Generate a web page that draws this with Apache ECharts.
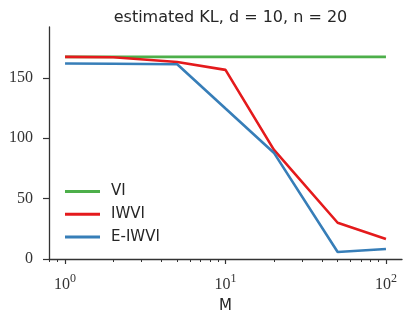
<!DOCTYPE html>
<html>
<head>
<meta charset="utf-8">
<script src="https://cdn.jsdelivr.net/npm/echarts@6/dist/echarts.min.js"></script>
<style>html,body{margin:0;padding:0;background:#fff;}#c{width:415px;height:319px;}</style>
</head>
<body>
<div id="c"></div>
<script>
var titleText = "estimated KL, d = 10, n = 20";
var M = [1, 2, 5, 10, 20, 50, 100];
var vi = [167.3, 167.3, 167.3, 167.3, 167.3, 167.3, 167.3];
var iwvi = [167.3, 167.0, 163.0, 156.5, 90.5, 30.0, 16.6];
var eiwvi = [161.8, 161.6, 161.2, 124.5, 88.0, 5.8, 8.3];
var seriesNames = ["VI", "IWVI", "E-IWVI"];
var colors = ["#4daf4a", "#e41a1c", "#377eb8"];
var yTicks = [0, 50, 100, 150];
var xMajor = [1, 10, 100];
var xMinor = [0.8, 0.9, 2, 3, 4, 5, 6, 7, 8, 9, 20, 30, 40, 50, 60, 70, 80, 90];
var xLabelExp = {1: "0", 10: "1", 100: "2"};

function pairs(xs, ys) { return xs.map(function (x, i) { return [x, ys[i]]; }); }

var chart = echarts.init(document.getElementById('c'), null, {renderer: 'canvas'});
var axisColor = '#333333';
var serif = '"Liberation Serif", serif';
var sans = '"DejaVu Sans", sans-serif';
var xmin = Math.pow(10, -0.1), xmax = Math.pow(10, 2.1);

var option = {
  backgroundColor: '#ffffff',
  animation: false,
  title: {
    text: titleText, left: 225.5, textAlign: 'center', top: 5,
    textStyle: {fontFamily: sans, fontSize: 16, fontWeight: 'normal', color: '#262626'}
  },
  grid: {left: 49, right: 13, top: 27, bottom: 60, containLabel: false},
  legend: {
    orient: 'vertical', left: 60, top: 179,
    itemWidth: 35, itemHeight: 3, itemGap: 7.7, icon: 'rect',
    textStyle: {fontFamily: sans, fontSize: 15, color: '#262626', lineHeight: 15, padding: [0, 0, 0, 6]},
    data: seriesNames
  },
  xAxis: [{
    type: 'log', logBase: 10, min: xmin, max: xmax,
    name: 'M', nameLocation: 'middle', nameGap: 40,
    nameTextStyle: {fontFamily: sans, fontSize: 15, color: '#262626'},
    axisLine: {lineStyle: {color: axisColor, width: 1.3}},
    axisTick: {show: true, length: 5, lineStyle: {color: axisColor, width: 1.2}, customValues: xMajor},
    axisLabel: {
      customValues: xMajor, margin: 14,
      formatter: function (v) { return '{b|10}{s|' + xLabelExp[Math.round(v)] + '}'; },
      rich: {
        b: {fontFamily: serif, fontSize: 16, color: '#333', verticalAlign: 'bottom', lineHeight: 20},
        s: {fontFamily: serif, fontSize: 12, color: '#333', verticalAlign: 'top', lineHeight: 20, padding: [0, 0, 6, 0]}
      }
    },
    splitLine: {show: false}
  }, {
    type: 'log', logBase: 10, min: xmin, max: xmax, position: 'bottom',
    axisLine: {show: false},
    axisTick: {show: true, length: 3, lineStyle: {color: axisColor, width: 1}, customValues: xMinor},
    axisLabel: {show: false},
    splitLine: {show: false}
  }],
  yAxis: {
    type: 'value', min: 0, max: 192, interval: 50,
    axisLine: {show: true, lineStyle: {color: axisColor, width: 1.3}},
    axisTick: {show: true, length: 6, lineStyle: {color: axisColor, width: 1.2}, customValues: yTicks},
    axisLabel: {customValues: yTicks, margin: 16, fontFamily: serif, fontSize: 16, color: '#333'},
    splitLine: {show: false}
  },
  series: [
    {name: seriesNames[0], type: 'line', data: pairs(M, vi), showSymbol: false, symbol: 'none', lineStyle: {color: colors[0], width: 2.6}, itemStyle: {color: colors[0]}, z: 3},
    {name: seriesNames[1], type: 'line', data: pairs(M, iwvi), showSymbol: false, symbol: 'none', lineStyle: {color: colors[1], width: 2.6}, itemStyle: {color: colors[1]}, z: 4},
    {name: seriesNames[2], type: 'line', data: pairs(M, eiwvi), showSymbol: false, symbol: 'none', lineStyle: {color: colors[2], width: 2.6}, itemStyle: {color: colors[2]}, z: 5}
  ]
};
chart.setOption(option);
</script>
</body>
</html>
